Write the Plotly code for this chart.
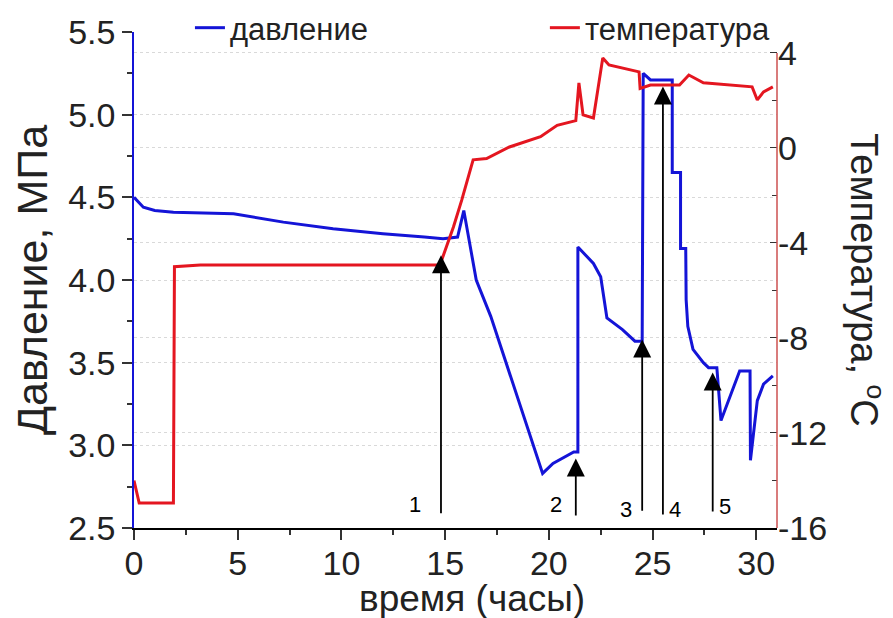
import plotly.graph_objects as go

# ---- data ----
t_pressure = [0, 0.45, 1.0, 1.9, 4.8, 7.2, 9.6, 12.0, 14.0, 14.9, 15.6, 15.9, 16.5, 17.2,
              19.7, 20.2, 21.2, 21.4, 21.4, 22.15, 22.5, 22.8, 23.55, 24.15, 24.5, 24.55,
              24.9, 25.95, 25.95, 26.35, 26.35, 26.6, 26.62, 26.7, 26.95, 27.45, 27.7,
              28.1, 28.3, 29.2, 29.7, 29.72, 30.05, 30.35, 30.8]
pressure = [4.50, 4.44, 4.42, 4.41, 4.40, 4.35, 4.31, 4.28, 4.26, 4.25, 4.26, 4.42, 4.00, 3.78,
            2.83, 2.89, 2.96, 2.96, 4.20, 4.10, 4.02, 3.77, 3.70, 3.63, 3.63, 5.25,
            5.21, 5.21, 4.65, 4.65, 4.19, 4.19, 3.88, 3.72, 3.58, 3.50, 3.47,
            3.47, 3.15, 3.45, 3.45, 2.91, 3.27, 3.37, 3.42]

t_temperature = [0, 0.25, 1.9, 1.95, 3.2, 14.75, 15.4, 15.8, 16.35, 17.0, 18.1, 19.6, 20.4,
                 21.3, 21.45, 21.65, 22.15, 22.6, 22.9, 24.35, 24.4, 24.9, 26.3, 26.75,
                 27.45, 29.8, 30.05, 30.35, 30.8]
temperature = [-14.0, -14.95, -14.95, -5.0, -4.93, -4.93, -3.33, -2.2, -0.5, -0.45, 0.04, 0.47, 0.95,
               1.15, 2.74, 1.39, 1.26, 3.79, 3.49, 3.2, 2.5, 2.65, 2.65, 3.07,
               2.74, 2.57, 2.02, 2.36, 2.57]

x_ticks = [0, 5, 10, 15, 20, 25, 30]
p_ticks = [2.5, 3.0, 3.5, 4.0, 4.5, 5.0, 5.5]
t_ticks = [-16, -12, -8, -4, 0, 4]
t_ticklabels = ["-16", "-12", "-8", "-4", "0", "4"]

arrow_labels = ["1", "2", "3", "4", "5"]
arrow_x = [14.8, 21.3, 24.5, 25.5, 27.9]
arrow_tip = [4.15, 2.92, 3.64, 5.17, 3.44]
arrow_tail = [2.58, 2.566, 2.596, 2.572, 2.59]
label_x = [13.55, 20.36, 23.73, 26.1, 28.5]
label_y = [2.64, 2.645, 2.61, 2.61, 2.63]

FONT = "Liberation Sans, Arial, sans-serif"
BLUE = "rgb(20,20,215)"
RED = "rgb(228,22,32)"
TXT = "#222222"

fig = go.Figure()
fig.add_trace(go.Scatter(x=t_pressure, y=pressure, mode="lines", name="давление",
                         line=dict(color=BLUE, width=3), yaxis="y", legend="legend",
                         showlegend=True))
fig.add_trace(go.Scatter(x=t_temperature, y=temperature, mode="lines", name="температура",
                         line=dict(color=RED, width=3), yaxis="y2", legend="legend2",
                         showlegend=True))

annotations = []
for lx, tip, tail in zip(arrow_x, arrow_tip, arrow_tail):
    annotations.append(dict(x=lx, y=tip, ax=lx, ay=tail, xref="x", yref="y", axref="x", ayref="y",
                            text="", showarrow=True, arrowhead=2, arrowsize=2.0, arrowwidth=1.8,
                            arrowcolor="black"))
for lab, lx, ly in zip(arrow_labels, label_x, label_y):
    annotations.append(dict(x=lx, y=ly, xref="x", yref="y", text=lab, showarrow=False,
                            font=dict(family=FONT, size=22, color="black")))
annotations.append(dict(x=1.18, y=0.5, xref="paper", yref="paper", text="Температура, <sup>o</sup>C",
                        textangle=90, showarrow=False, font=dict(family=FONT, size=38, color=TXT)))
annotations.append(dict(x=0.526, y=-0.142, xref="paper", yref="paper", text="время (часы)",
                        yanchor="middle", showarrow=False, font=dict(family=FONT, size=37, color=TXT)))

# page body adds an 8px offset; margins compensate so the plot area lands where the reference has it
fig.update_layout(
    width=893, height=618,
    margin=dict(l=126, r=124, t=24, b=98, autoexpand=False),
    showlegend=True,
    paper_bgcolor="white", plot_bgcolor="white",
    font=dict(family=FONT, color=TXT),
    xaxis=dict(range=[0, 31], tickvals=x_ticks, ticks="outside", ticklen=10, tickwidth=1.5,
               tickcolor="#333", showline=True, linecolor="black", linewidth=1.5,
               showgrid=False, zeroline=False, tickfont=dict(size=34), automargin=False,
               ticklabelstandoff=-6,
               minor=dict(dtick=2.5, ticks="outside", ticklen=5, tickcolor="#333")),
    yaxis=dict(range=[2.5, 5.5], tickvals=p_ticks, tickformat=".1f", ticks="outside", ticklen=10,
               tickwidth=1.5, tickcolor="#333", showline=True, linecolor=BLUE, linewidth=1.5,
               showgrid=True, gridcolor="rgba(170,170,170,0.45)", griddash="dot", zeroline=False,
               tickfont=dict(size=34), automargin=False,
               minor=dict(dtick=0.25, ticks="outside", ticklen=5, tickcolor="#333"),
               title=dict(text="Давление, МПа", font=dict(size=43), standoff=14)),
    yaxis2=dict(overlaying="y", side="right", range=[-16, 4.88], tickvals=t_ticks,
                ticktext=t_ticklabels, ticks="inside", ticklen=7, tickcolor="#333",
                showline=False, showgrid=True, gridcolor="rgba(170,170,170,0.45)", griddash="dot",
                zeroline=False, tickfont=dict(size=34), automargin=False,
                minor=dict(dtick=2, ticks="inside", ticklen=5, tickcolor="#333")),
    legend=dict(x=0.087, y=1.008, xanchor="left", yanchor="middle", bgcolor="rgba(0,0,0,0)",
                font=dict(size=31, color=TXT)),
    legend2=dict(x=0.639, y=1.008, xanchor="left", yanchor="middle", bgcolor="rgba(0,0,0,0)",
                 font=dict(size=31, color=TXT)),
    annotations=annotations,
    shapes=[dict(type="line", xref="paper", yref="y2", x0=1, x1=1, y0=-16, y1=4,
                 line=dict(color="rgb(205,80,80)", width=1.5))],
)

fig.write_html("out.html")
